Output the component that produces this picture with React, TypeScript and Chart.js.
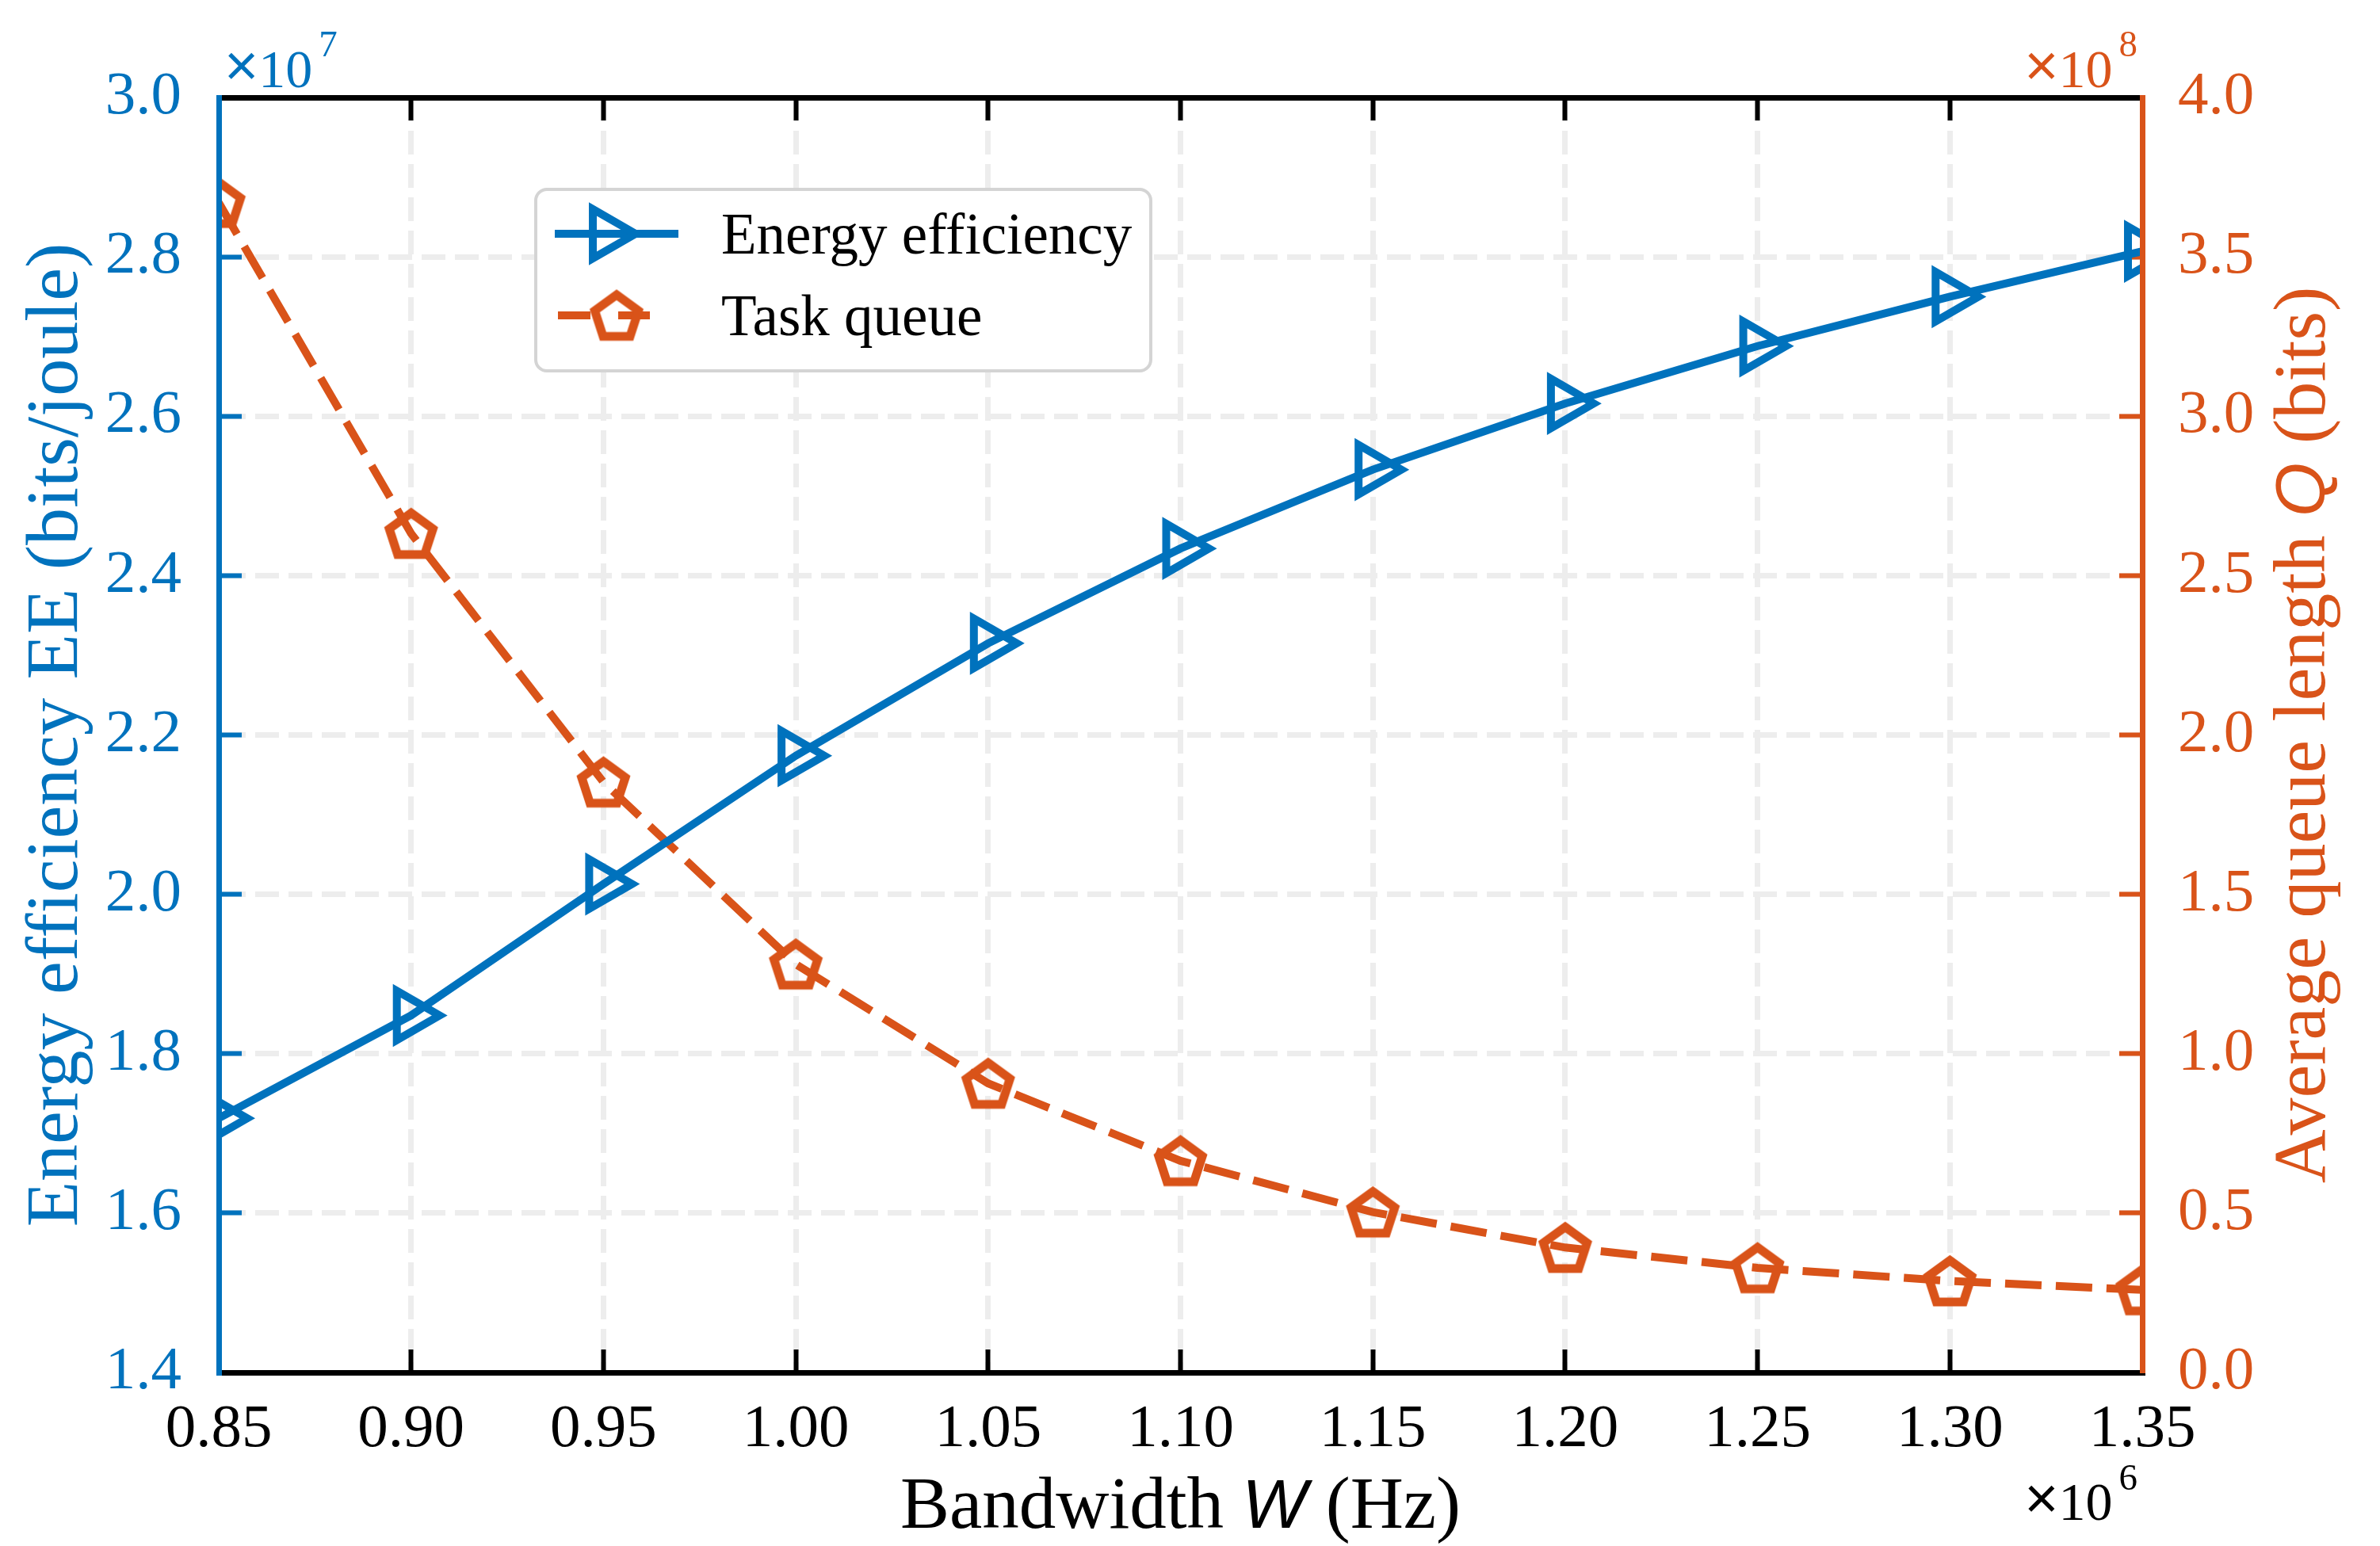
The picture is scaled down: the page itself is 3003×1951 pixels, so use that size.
import React, { useEffect, useRef } from 'react';
import { Chart, registerables } from 'chart.js';

Chart.register(...registerables);

// ---------------- data ----------------
const bandwidthHz = [0.85e6, 0.9e6, 0.95e6, 1.0e6, 1.05e6, 1.1e6, 1.15e6, 1.2e6, 1.25e6, 1.3e6, 1.35e6];
const energyEfficiency = [1.719e7, 1.848e7, 2.013e7, 2.174e7, 2.315e7, 2.434e7, 2.533e7, 2.616e7, 2.688e7, 2.75e7, 2.807e7];
const taskQueue = [3.67e8, 2.632e8, 1.852e8, 1.281e8, 0.907e8, 0.664e8, 0.503e8, 0.392e8, 0.328e8, 0.287e8, 0.259e8];

const seriesNames = ['Energy efficiency', 'Task queue'];
const xTitleParts = ['Bandwidth ', 'W', ' (Hz)'];
const yLeftTitleParts = ['Energy efficiency EE (bits/joule)'];
const yRightTitleParts = ['Average queue length ', 'Q', ' (bits)'];
const xExponent = '6';
const yLeftExponent = '7';
const yRightExponent = '8';

const X_MIN = 0.85e6, X_MAX = 1.35e6, X_STEP = 0.05e6, X_SCALE = 1e6;
const YL_MIN = 1.4e7, YL_MAX = 3.0e7, YL_STEP = 0.2e7, YL_SCALE = 1e7;
const YR_MIN = 0, YR_MAX = 4.0e8, YR_STEP = 0.5e8, YR_SCALE = 1e8;

// ---------------- styles ----------------
const BLUE = '#0072BD';
const ORANGE = '#D95319';
const GRID = '#ededed';
const SERIF = 'Liberation Serif';
const SANS = 'Liberation Sans';

function makePentagon(color: string, R: number, lw: number): HTMLCanvasElement {
  const size = Math.ceil(2 * R + lw * 3);
  const c = document.createElement('canvas');
  c.width = size;
  c.height = size;
  const ctx = c.getContext('2d')!;
  ctx.strokeStyle = color;
  ctx.lineWidth = lw;
  ctx.lineJoin = 'miter';
  ctx.beginPath();
  for (let i = 0; i < 5; i++) {
    const a = -Math.PI / 2 + (i * 2 * Math.PI) / 5;
    const px = size / 2 + R * Math.cos(a);
    const py = size / 2 + 3 + R * Math.sin(a);
    if (i === 0) ctx.moveTo(px, py);
    else ctx.lineTo(px, py);
  }
  ctx.closePath();
  ctx.stroke();
  return c;
}

type Part = { text: string; font: string };

function drawParts(ctx: CanvasRenderingContext2D, parts: Part[], cx: number, baseline: number) {
  let total = 0;
  const widths = parts.map((p) => {
    ctx.font = p.font;
    const w = ctx.measureText(p.text).width;
    total += w;
    return w;
  });
  let x = cx - total / 2;
  ctx.textAlign = 'left';
  ctx.textBaseline = 'alphabetic';
  parts.forEach((p, i) => {
    ctx.font = p.font;
    ctx.fillText(p.text, x, baseline);
    x += widths[i];
  });
}

function drawExponent(
  ctx: CanvasRenderingContext2D,
  exp: string,
  color: string,
  anchorX: number,
  align: 'left' | 'right',
  baseline: number,
  supBaseline: number
) {
  const timesFont = `74px ${SANS}`;
  const mainFont = `68px ${SERIF}`;
  const supFont = `47px ${SERIF}`;
  ctx.font = timesFont;
  const w0 = ctx.measureText('\u00d7').width;
  ctx.font = mainFont;
  const w1 = ctx.measureText('10').width;
  ctx.font = supFont;
  const w2 = ctx.measureText(exp).width;
  const gap = 8;
  const total = w0 + w1 + gap + w2;
  const x0 = align === 'left' ? anchorX : anchorX - total;
  ctx.fillStyle = color;
  ctx.textAlign = 'left';
  ctx.textBaseline = 'alphabetic';
  ctx.font = timesFont;
  ctx.fillText('\u00d7', x0, baseline - 2);
  ctx.font = mainFont;
  ctx.fillText('10', x0 + w0, baseline);
  ctx.font = supFont;
  ctx.fillText(exp, x0 + w0 + w1 + gap, supBaseline);
}

const decorPlugin = {
  id: 'decor',
  afterDraw(chart: any) {
    const ctx: CanvasRenderingContext2D = chart.ctx;
    const area = chart.chartArea;
    const pent = chart.$pentagon as HTMLCanvasElement;
    ctx.save();

    // x title
    ctx.fillStyle = '#000000';
    drawParts(
      ctx,
      [
        { text: xTitleParts[0], font: `93px ${SERIF}` },
        { text: xTitleParts[1], font: `italic 87px ${SANS}` },
        { text: xTitleParts[2], font: `93px ${SERIF}` },
      ],
      (area.left + area.right) / 2,
      1928
    );

    // left y title
    ctx.save();
    ctx.translate(97, (area.top + area.bottom) / 2);
    ctx.rotate(-Math.PI / 2);
    ctx.fillStyle = BLUE;
    drawParts(ctx, [{ text: yLeftTitleParts[0], font: `94px ${SERIF}` }], 0, 0);
    ctx.restore();

    // right y title
    ctx.save();
    ctx.translate(2933, (area.top + area.bottom) / 2);
    ctx.rotate(-Math.PI / 2);
    ctx.fillStyle = ORANGE;
    drawParts(
      ctx,
      [
        { text: yRightTitleParts[0], font: `94px ${SERIF}` },
        { text: yRightTitleParts[1], font: `italic 88px ${SANS}` },
        { text: yRightTitleParts[2], font: `94px ${SERIF}` },
      ],
      0,
      0
    );
    ctx.restore();

    // exponents
    drawExponent(ctx, yLeftExponent, BLUE, area.left + 7, 'left', 110, 71);
    drawExponent(ctx, yRightExponent, ORANGE, area.right - 6, 'right', 110, 71);
    drawExponent(ctx, xExponent, '#000000', area.right - 6, 'right', 1918, 1880);

    // legend
    const bx = 676, by = 239, bw = 776, bh = 229;
    ctx.beginPath();
    (ctx as any).roundRect(bx, by, bw, bh, 14);
    ctx.fillStyle = '#ffffff';
    ctx.fill();
    ctx.lineWidth = 4;
    ctx.strokeStyle = '#d4d4d4';
    ctx.stroke();

    const ds = chart.data.datasets;
    // row 1
    const r1 = 295;
    ctx.strokeStyle = ds[0].borderColor;
    ctx.lineWidth = ds[0].borderWidth;
    ctx.setLineDash([]);
    ctx.beginPath();
    ctx.moveTo(700, r1);
    ctx.lineTo(856, r1);
    ctx.stroke();
    const tr = ds[0].pointRadius;
    const tx = 766;
    ctx.lineWidth = ds[0].pointBorderWidth;
    ctx.beginPath();
    ctx.moveTo(tx + tr, r1);
    ctx.lineTo(tx - tr / 2, r1 - tr * 0.866);
    ctx.lineTo(tx - tr / 2, r1 + tr * 0.866);
    ctx.closePath();
    ctx.stroke();

    // row 2
    const r2 = 398;
    ctx.strokeStyle = ds[1].borderColor;
    ctx.lineWidth = ds[1].borderWidth;
    ctx.setLineDash([41, 35, 40, 100]);
    ctx.beginPath();
    ctx.moveTo(704, r2);
    ctx.lineTo(851, r2);
    ctx.stroke();
    ctx.setLineDash([]);
    if (pent) ctx.drawImage(pent, 778 - pent.width / 2, r2 - pent.height / 2);

    ctx.fillStyle = '#000000';
    ctx.font = `73px ${SERIF}`;
    ctx.textAlign = 'left';
    ctx.textBaseline = 'alphabetic';
    ctx.fillText(ds[0].label, 910, 320);
    ctx.fillText(ds[1].label, 910, 423);

    ctx.restore();
  },
};

export default function App() {
  const canvasRef = useRef<HTMLCanvasElement | null>(null);

  useEffect(() => {
    document.body.style.margin = '0';
    const canvas = canvasRef.current;
    if (!canvas) return;
    const pentagon = makePentagon(ORANGE, 29, 11);
    const tickFont = { family: SERIF, size: 77, lineHeight: 1 };
    const TL = -29;

    const chart = new Chart(canvas, {
      type: 'line',
      data: {
        datasets: [
          {
            label: seriesNames[0],
            data: bandwidthHz.map((x, i) => ({ x, y: energyEfficiency[i] })),
            xAxisID: 'x',
            yAxisID: 'y',
            borderColor: BLUE,
            borderWidth: 10,
            backgroundColor: 'rgba(0,0,0,0)',
            pointStyle: 'triangle',
            rotation: 90,
            pointRadius: 36,
            pointBorderWidth: 10,
            pointBorderColor: BLUE,
            pointBackgroundColor: 'rgba(0,0,0,0)',
            tension: 0,
            clip: 0,
          } as any,
          {
            label: seriesNames[1],
            data: bandwidthHz.map((x, i) => ({ x, y: taskQueue[i] })),
            xAxisID: 'x',
            yAxisID: 'y2',
            borderColor: ORANGE,
            borderWidth: 10,
            borderDash: [46, 18],
            backgroundColor: 'rgba(0,0,0,0)',
            pointStyle: pentagon,
            pointRadius: 33,
            pointBorderWidth: 0,
            tension: 0,
            clip: 0,
          } as any,
        ],
      },
      options: {
        animation: false,
        responsive: false,
        devicePixelRatio: 1,
        events: [],
        layout: { padding: { top: 123, left: 0, right: 0, bottom: 0 } },
        plugins: {
          legend: { display: false },
          tooltip: { enabled: false },
        },
        scales: {
          x: {
            type: 'linear',
            position: 'bottom',
            min: X_MIN,
            max: X_MAX,
            ticks: {
              stepSize: X_STEP,
              autoSkip: false,
              maxRotation: 0,
              minRotation: 0,
              padding: 63,
              color: '#000000',
              font: tickFont,
              callback: (v: any) => (Number(v) / X_SCALE).toFixed(2),
            },
            grid: {
              color: GRID,
              lineWidth: 7,
              drawTicks: true,
              tickLength: TL,
              tickWidth: 6,
              tickColor: '#000000',
            },
            border: { display: true, color: '#000000', width: 7, dash: [30, 12], z: 1 },
            afterFit: (s: any) => {
              s.height = 219;
            },
          },
          xTop: {
            type: 'linear',
            position: 'top',
            min: X_MIN,
            max: X_MAX,
            ticks: { stepSize: X_STEP, display: false, autoSkip: false },
            grid: {
              drawOnChartArea: false,
              drawTicks: true,
              tickLength: TL,
              tickWidth: 6,
              tickColor: '#000000',
            },
            border: { display: true, color: '#000000', width: 7, z: 1 },
            afterFit: (s: any) => {
              s.height = 0;
            },
          },
          y: {
            type: 'linear',
            position: 'left',
            min: YL_MIN,
            max: YL_MAX,
            ticks: {
              stepSize: YL_STEP,
              padding: 76,
              color: BLUE,
              font: tickFont,
              callback: (v: any) => (Number(v) / YL_SCALE).toFixed(1),
            },
            grid: {
              color: GRID,
              lineWidth: 7,
              drawTicks: true,
              tickLength: TL,
              tickWidth: 6,
              tickColor: BLUE,
            },
            border: { display: true, color: BLUE, width: 7, dash: [30, 12], z: 1 },
            afterFit: (s: any) => {
              s.width = 276;
            },
          },
          y2: {
            type: 'linear',
            position: 'right',
            min: YR_MIN,
            max: YR_MAX,
            ticks: {
              stepSize: YR_STEP,
              padding: 74,
              color: ORANGE,
              font: tickFont,
              callback: (v: any) => (Number(v) / YR_SCALE).toFixed(1),
            },
            grid: {
              drawOnChartArea: false,
              drawTicks: true,
              tickLength: TL,
              tickWidth: 6,
              tickColor: ORANGE,
            },
            border: { display: true, color: ORANGE, width: 7, z: 1 },
            afterFit: (s: any) => {
              s.width = 300;
            },
          },
        },
      } as any,
      plugins: [decorPlugin],
    });
    (chart as any).$pentagon = pentagon;
    chart.draw();

    return () => {
      chart.destroy();
    };
  }, []);

  return (
    <div style={{ position: 'absolute', left: 0, top: 0, width: 3003, height: 1951, background: '#ffffff' }}>
      <canvas ref={canvasRef} width={3003} height={1951} style={{ width: 3003, height: 1951, display: 'block' }} />
    </div>
  );
}
